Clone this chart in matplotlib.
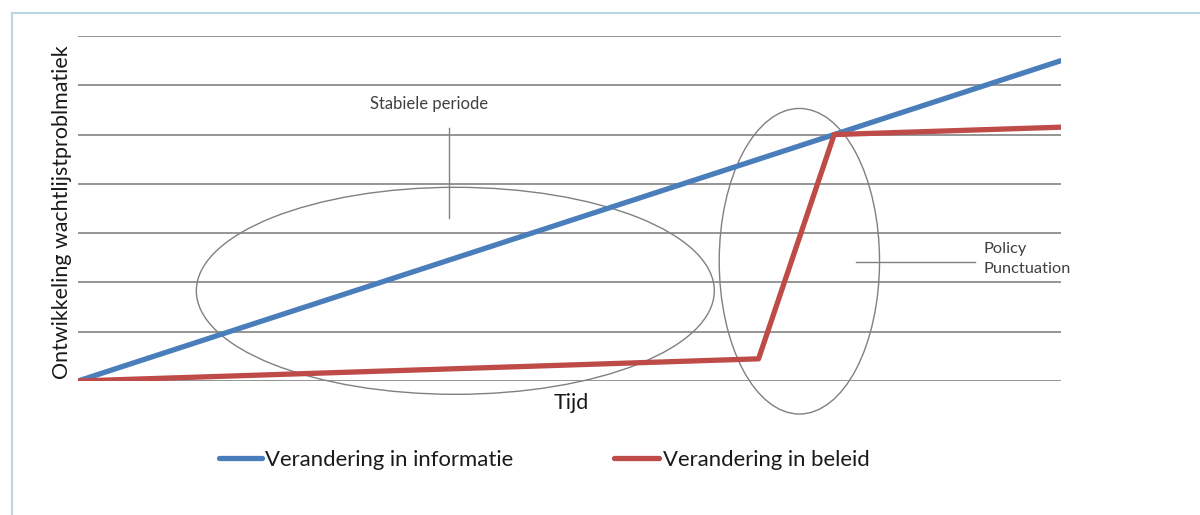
import matplotlib
matplotlib.use("Agg")
import matplotlib.pyplot as plt
from matplotlib.patches import Ellipse
from matplotlib.lines import Line2D

# Time steps and the two development series
tijd = [0, 1, 2, 3, 4, 5, 6, 7, 8, 9, 10, 11, 12, 13]
informatie = [0.0, 0.5, 1.0, 1.5, 2.0, 2.5, 3.0, 3.5, 4.0, 4.5, 5.0, 5.5, 6.0, 6.5]
beleid = [0.0, 0.05, 0.10, 0.15, 0.20, 0.25, 0.30, 0.35, 0.40, 0.45, 5.0, 5.05, 5.10, 5.15]
gridlevels = [0, 1, 2, 3, 4, 5, 6, 7]

label_info = "Verandering in informatie"
label_beleid = "Verandering in beleid"
ylabel = "Ontwikkeling wachtlijstproblmatiek"
xlabel = "Tijd"

BLUE = "#4a7ebb"
RED = "#be4b48"
GRID = "#8c8c8c"
SHAPE = "#808080"
FONT = ["Lato", "DejaVu Sans"]

W, H = 1200, 515
fig = plt.figure(figsize=(W / 100, H / 100), dpi=100)
ax = fig.add_axes([78 / W, 1 - 381 / H, (1061 - 78) / W, (381 - 36) / H])
ax.set_xlim(tijd[0], tijd[-1])
ax.set_ylim(gridlevels[0], gridlevels[-1])
ax.axis("off")

for g in gridlevels:
    ax.axhline(g, color=GRID, lw=1.3, zorder=1)

ax.plot(tijd, informatie, color=BLUE, lw=3.8, solid_capstyle="round", zorder=3)
ax.plot(tijd, beleid, color=RED, lw=3.8, solid_capstyle="round", zorder=3)

# Highlighted periods
ax.add_patch(Ellipse((4.99, 1.83), 6.85, 4.2, fill=False, ec=SHAPE, lw=1.0,
                     clip_on=False, zorder=2))
ax.add_patch(Ellipse((9.54, 2.43), 2.12, 6.2, fill=False, ec=SHAPE, lw=1.0,
                     clip_on=False, zorder=2))

def px(x, y):
    return x / W, 1 - y / H

# Callout for the stable period
fig.add_artist(Line2D([449 / W, 449 / W], [1 - 128 / H, 1 - 218 / H], color=SHAPE, lw=1.0))
fig.text(*px(429, 104), "Stabiele periode", ha="center", va="center",
         fontsize=12, color="#404040", family=FONT)

# Callout for the punctuation
fig.add_artist(Line2D([856 / W, 975 / W], [1 - 262 / H, 1 - 262 / H], color=SHAPE, lw=1.0))
fig.text(*px(984, 259), "Policy\nPunctuation", ha="left", va="center",
         fontsize=11.8, color="#404040", family=FONT, linespacing=1.6)

# Axis titles
fig.text(*px(62, 212), ylabel, rotation=90, ha="center", va="center",
         fontsize=15.4, color="#1a1a1a", family=FONT)
fig.text(*px(571, 403), xlabel, ha="center", va="center",
         fontsize=15.5, color="#1a1a1a", family=FONT)

# Legend
fig.add_artist(Line2D([219 / W, 262 / W], [1 - 458 / H] * 2, color=BLUE, lw=3.8,
                      solid_capstyle="round"))
fig.text(*px(265, 460), label_info, ha="left", va="center",
         fontsize=15.9, color="#1a1a1a", family=FONT)
fig.add_artist(Line2D([614 / W, 659 / W], [1 - 458 / H] * 2, color=RED, lw=3.8,
                      solid_capstyle="round"))
fig.text(*px(663, 460), label_beleid, ha="left", va="center",
         fontsize=15.9, color="#1a1a1a", family=FONT)

# Chart frame
FRAME = "#bcd6e0"
fig.add_artist(Line2D([12 / W, 1.0], [1 - 13 / H] * 2, color=FRAME, lw=1.5))
fig.add_artist(Line2D([12 / W] * 2, [0.0, 1 - 13 / H], color=FRAME, lw=1.5))

fig.savefig("out.png", dpi=100)
